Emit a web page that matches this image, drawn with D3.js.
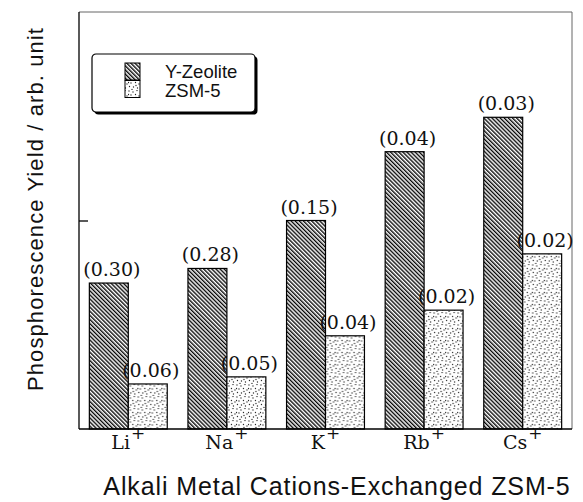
<!DOCTYPE html>
<html>
<head>
<meta charset="utf-8">
<script src="https://cdn.jsdelivr.net/npm/d3@7"></script>
<style>
  html, body { margin: 0; padding: 0; background: #fff; }
  svg { display: block; }
</style>
</head>
<body>
<svg id="chart" width="583" height="502"></svg>
<script>
// Cations exchanged into the host, and relative phosphorescence yields
const cations = ["Li", "Na", "K", "Rb", "Cs"];
const series = ["Y-Zeolite", "ZSM-5"];
const yZeolite = [0.70, 0.77, 1.00, 1.33, 1.495];
const zsm5 = [0.216, 0.25, 0.447, 0.57, 0.84];
// Values printed in parentheses above each bar
const yZeoliteNotes = ["(0.30)", "(0.28)", "(0.15)", "(0.04)", "(0.03)"];
const zsm5Notes = ["(0.06)", "(0.05)", "(0.04)", "(0.02)", "(0.02)"];
const yTicks = [1];

(function () {
  const rows = cations.map((c, i) => ({
    cation: c,
    values: [
      { key: series[0], value: yZeolite[i], note: yZeoliteNotes[i] },
      { key: series[1], value: zsm5[i], note: zsm5Notes[i] }
    ]
  }));

  const svg = d3.select("#chart");
  const mLeft = 79, mRight = 572, mTop = 12, mBottom = 429;

  const x0 = d3.scaleBand().domain(cations).range([mLeft, mRight])
    .paddingInner(0.21).paddingOuter(0.105);
  const x1 = d3.scaleBand().domain(series).range([0, x0.bandwidth()]);
  const y = d3.scaleLinear().domain([0, 2]).range([mBottom, mTop]);

  // Fill patterns: diagonal hatching and a fine stipple
  const defs = svg.append("defs");
  const hatch = defs.append("pattern")
    .attr("id", "hatch").attr("patternUnits", "userSpaceOnUse")
    .attr("width", 2.9).attr("height", 10)
    .attr("patternTransform", "rotate(-45)");
  hatch.append("rect").attr("width", 2.9).attr("height", 10).attr("fill", "#fff");
  hatch.append("line").attr("x1", 0.7).attr("x2", 0.7).attr("y1", 0).attr("y2", 10)
    .attr("stroke", "#000").attr("stroke-width", 1.35);

  const dots = defs.append("pattern")
    .attr("id", "dots").attr("patternUnits", "userSpaceOnUse")
    .attr("width", 12).attr("height", 12);
  dots.append("rect").attr("width", 12).attr("height", 12).attr("fill", "#fff");
  [[1, 1], [5, 2], [9, 0.5], [3, 5], [7.5, 4.5], [11, 6], [1.5, 8.5], [5.5, 9], [9.5, 10], [4, 11.5], [8, 7.5], [0.5, 4.5]]
    .forEach(([cx, cy]) => dots.append("circle").attr("cx", cx).attr("cy", cy)
      .attr("r", 0.65).attr("fill", "#222"));

  const fills = { "Y-Zeolite": "url(#hatch)", "ZSM-5": "url(#dots)" };

  // Frame: light top and right edges
  svg.append("path")
    .attr("d", `M${mLeft},${mTop}H${mRight}V${mBottom}`)
    .attr("fill", "none").attr("stroke", "#666").attr("stroke-width", 1);

  // Bars
  const groups = svg.append("g").selectAll("g").data(rows).join("g")
    .attr("transform", d => `translate(${x0(d.cation)},0)`);

  groups.selectAll("rect").data(d => d.values).join("rect")
    .attr("x", d => x1(d.key))
    .attr("y", d => y(d.value))
    .attr("width", x1.bandwidth())
    .attr("height", d => y(0) - y(d.value))
    .attr("fill", d => fills[d.key])
    .attr("stroke", "#000").attr("stroke-width", 1.2);

  groups.selectAll("text.note").data(d => d.values).join("text")
    .attr("class", "note")
    .attr("x", d => x1(d.key) + x1.bandwidth() / 2 + 3)
    .attr("y", d => y(d.value) - 7)
    .attr("text-anchor", "middle")
    .attr("font-family", "'DejaVu Serif', serif")
    .attr("font-size", 19)
    .attr("fill", "#111")
    .text(d => d.note);

  // Axes
  const yAxis = d3.axisLeft(y).tickValues(yTicks).tickSize(-9).tickFormat("");
  svg.append("g").attr("transform", `translate(${mLeft},0)`).call(yAxis)
    .call(g => g.select(".domain").attr("d", `M0,${mTop}V${mBottom}`).attr("stroke-width", 1.3))
    .call(g => g.selectAll(".tick line").attr("stroke-width", 1.3));

  const xAxis = d3.axisBottom(x0).tickSize(0).tickFormat("");
  const xg = svg.append("g").attr("transform", `translate(0,${mBottom})`).call(xAxis);
  xg.select(".domain").attr("d", `M${mLeft},0H${mRight}`).attr("stroke-width", 1.4);

  // Cation labels with superscript charge
  xg.selectAll(".tick").each(function (d) {
    const t = d3.select(this).append("text")
      .attr("y", 20)
      .attr("text-anchor", "middle")
      .attr("font-family", "'DejaVu Serif', serif")
      .attr("font-size", 19)
      .attr("fill", "#111");
    t.append("tspan").text(d);
    t.append("tspan").attr("dy", -10).attr("dx", 1).attr("font-size", 17).text("+");
  });

  // Axis titles
  svg.append("text")
    .attr("x", 337).attr("y", 495)
    .attr("text-anchor", "middle")
    .attr("font-family", "'Liberation Sans', Arial, sans-serif")
    .attr("font-size", 25).attr("letter-spacing", 0.9).attr("fill", "#111")
    .text("Alkali Metal Cations-Exchanged ZSM-5");

  svg.append("text")
    .attr("transform", "translate(43,209) rotate(-90)")
    .attr("text-anchor", "middle")
    .attr("font-family", "'Liberation Sans', Arial, sans-serif")
    .attr("font-size", 22).attr("letter-spacing", 1.1).attr("fill", "#111")
    .text("Phosphorescence Yield / arb. unit");

  // Legend with a drop-shadow edge
  const lg = svg.append("g").attr("transform", "translate(92,54)");
  lg.append("rect").attr("x", 2.5).attr("y", 2.5).attr("width", 163).attr("height", 58)
    .attr("fill", "#000").attr("rx", 4);
  lg.append("rect").attr("x", 0).attr("y", 0).attr("width", 163).attr("height", 58)
    .attr("fill", "#fff").attr("stroke", "#000").attr("stroke-width", 1.2).attr("rx", 4);
  series.forEach((s, i) => {
    lg.append("rect").attr("x", 33).attr("y", 9 + i * 17.5).attr("width", 15).attr("height", 17)
      .attr("fill", fills[s]).attr("stroke", "#000").attr("stroke-width", 1);
    lg.append("text").attr("x", 73).attr("y", 24 + i * 19)
      .attr("font-family", "'Liberation Sans', Arial, sans-serif")
      .attr("font-size", 18.5).attr("fill", "#111")
      .text(s);
  });
})();
</script>
</body>
</html>
